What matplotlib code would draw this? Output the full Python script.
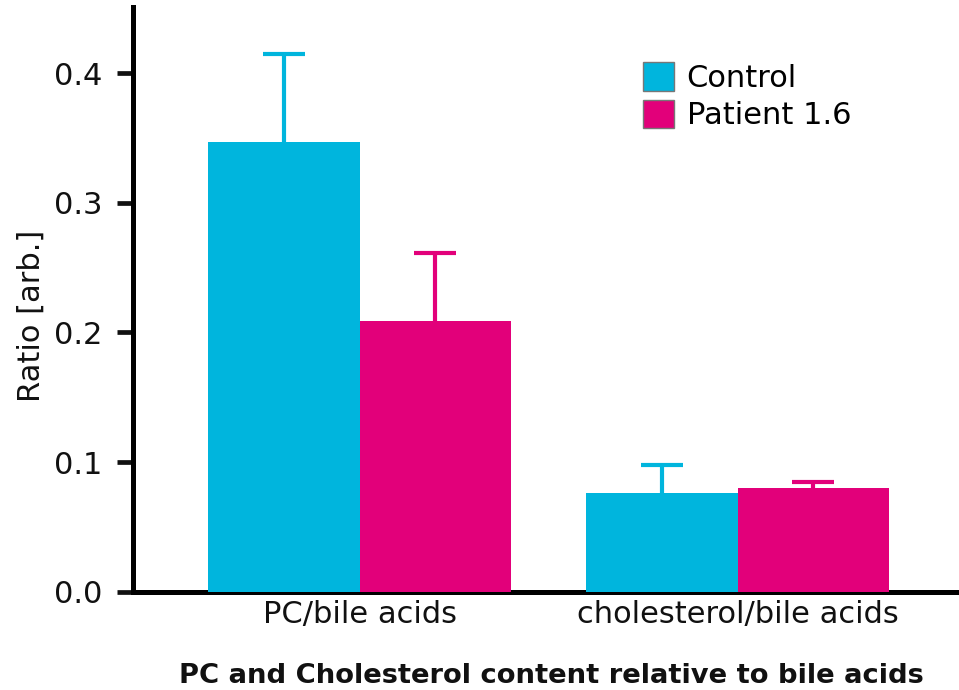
import matplotlib
matplotlib.use("Agg")
import matplotlib.pyplot as plt
import numpy as np
from matplotlib.patches import Patch

# Data
categories = ["PC/bile acids", "cholesterol/bile acids"]
series_names = ["Control", "Patient 1.6"]
control_means = [0.347, 0.076]
control_err = [0.068, 0.022]
patient_means = [0.209, 0.080]
patient_err = [0.0525, 0.0046]
y_ticks = [0.0, 0.1, 0.2, 0.3, 0.4]
y_tick_labels = ["0.0", "0.1", "0.2", "0.3", "0.4"]

cyan = "#00B5DD"
magenta = "#E2007A"
ink = "#111111"

plt.rcParams["font.family"] = ["DejaVu Sans"]

fig = plt.figure(figsize=(9.59, 6.90), dpi=100)
ax = fig.add_axes([0.1384, 0.1425, 0.8616, 0.8478])

x = np.arange(len(categories))
width = 0.402

for offset, means, errs, color in [(-width / 2, control_means, control_err, cyan),
                                   (width / 2, patient_means, patient_err, magenta)]:
    pos = x + offset
    ax.bar(pos, means, width=width, color=color, zorder=3, linewidth=0)
    _, caps, bars = ax.errorbar(pos, means, yerr=[np.zeros(len(errs)), errs],
                                fmt="none", ecolor=color, elinewidth=3.0,
                                capsize=15.4, capthick=3.0, zorder=2)
    caps[0].set_visible(False)

ax.set_xlim(-0.6, 1.586)
ax.set_ylim(0, 0.4514)
ax.set_yticks(y_ticks)
ax.set_yticklabels(y_tick_labels)
ax.set_xticks(x)
ax.set_xticklabels(categories)

for side in ["top", "right"]:
    ax.spines[side].set_visible(False)
ax.spines["left"].set_linewidth(3.6)
ax.spines["bottom"].set_linewidth(3.6)
ax.tick_params(axis="y", length=11.5, width=3.4, pad=10, labelsize=22, colors=ink)
ax.tick_params(axis="x", length=0, pad=6, labelsize=22, colors=ink)

fig.text(551 / 959, 1 - 683 / 690, "PC and Cholesterol content relative to bile acids",
         ha="center", va="baseline", fontsize=19.7, fontweight="bold", color=ink)
fig.text(31 / 959, 1 - 402 / 690, "Ratio [arb.]", rotation=90, ha="center", va="bottom",
         fontsize=22, color=ink)

handles = [Patch(facecolor=cyan, edgecolor="#777777", linewidth=1.0),
           Patch(facecolor=magenta, edgecolor="#777777", linewidth=1.0)]
ax.legend(handles, series_names, loc="upper left", bbox_to_anchor=(0.603, 0.926),
          frameon=False, fontsize=22, handlelength=1.02, handleheight=1.05,
          handletextpad=0.4, labelspacing=0.22, borderaxespad=0)

fig.savefig("out.png", dpi=100)
